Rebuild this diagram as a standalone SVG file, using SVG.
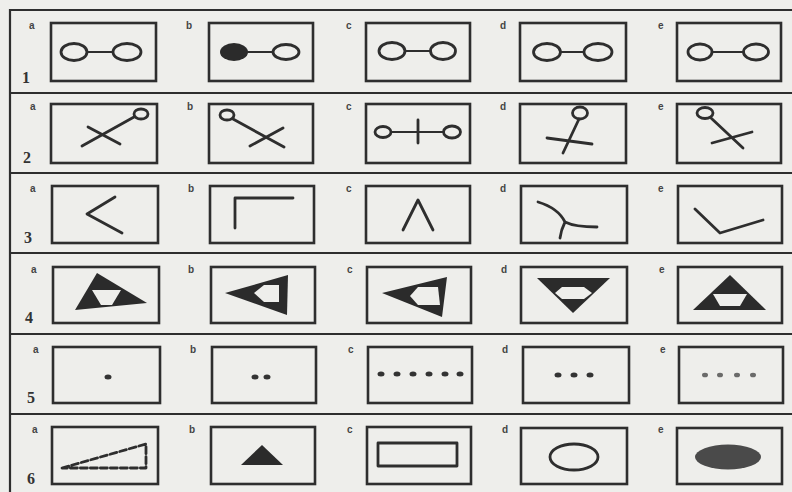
<svg xmlns="http://www.w3.org/2000/svg" width="792" height="492" viewBox="0 0 792 492">
<style>
.bg{fill:#eeeeeb}
.frame{stroke:#2e2e2e;stroke-width:2.2;fill:none}
.box{fill:none;stroke:#2e2e2e;stroke-width:2.6}
.ln{fill:none;stroke:#2e2e2e;stroke-width:2.8;stroke-linecap:round;stroke-linejoin:round}
.thin{fill:none;stroke:#2e2e2e;stroke-width:2.2;stroke-linecap:round}
.solid{fill:#2b2b2b;stroke:none}
.hole{fill:#eeeeeb;stroke:none}
.dot{fill:#333}
.lt{font-family:"Liberation Sans",Arial,sans-serif;font-size:10px;font-weight:bold;fill:#444}
.num{font-family:"Liberation Serif","Times New Roman",serif;font-size:16px;font-weight:bold;fill:#333}
</style>
<rect class="bg" x="0" y="0" width="792" height="492"/>
<g id="frame">
<path class="frame" d="M10,494 V10 H792 M10,93 H792 M10,173 H792 M10,253 H792 M10,334 H792 M10,414 H792"/>
</g>
<g id="row-labels">
<text class="num" x="22" y="83">1</text>
<text class="num" x="23" y="163">2</text>
<text class="num" x="24" y="243">3</text>
<text class="num" x="25" y="323">4</text>
<text class="num" x="27" y="403">5</text>
<text class="num" x="27" y="484">6</text>
</g>

<!-- Row 1 -->
<g id="r1a"><text class="lt" x="29" y="29">a</text><rect class="box" x="51" y="23" width="105" height="58"/>
<ellipse class="ln" cx="74" cy="52" rx="13" ry="8.5"/><ellipse class="ln" cx="127" cy="52" rx="14" ry="8.5"/><line class="thin" x1="87" y1="52" x2="113" y2="52"/></g>
<g id="r1b"><text class="lt" x="186" y="29">b</text><rect class="box" x="209" y="23" width="104" height="58"/>
<ellipse class="solid" cx="234" cy="52" rx="14" ry="9"/><ellipse class="ln" cx="286" cy="52" rx="13" ry="7.5"/><line class="thin" x1="248" y1="52" x2="273" y2="52"/></g>
<g id="r1c"><text class="lt" x="346" y="29">c</text><rect class="box" x="366" y="23" width="104" height="58"/>
<ellipse class="ln" cx="392" cy="51" rx="13" ry="8.5"/><ellipse class="ln" cx="443" cy="51" rx="12.5" ry="8.5"/><line class="thin" x1="405" y1="51" x2="430" y2="51"/></g>
<g id="r1d"><text class="lt" x="500" y="29">d</text><rect class="box" x="520" y="23" width="106" height="58"/>
<ellipse class="ln" cx="547" cy="52" rx="13.5" ry="8.5"/><ellipse class="ln" cx="598" cy="52" rx="14" ry="8.5"/><line class="thin" x1="560" y1="52" x2="584" y2="52"/></g>
<g id="r1e"><text class="lt" x="658" y="29">e</text><rect class="box" x="677" y="23" width="104" height="58"/>
<ellipse class="ln" cx="700" cy="52" rx="12" ry="8"/><ellipse class="ln" cx="756" cy="52" rx="12.5" ry="8"/><line class="thin" x1="712" y1="52" x2="743" y2="52"/></g>

<!-- Row 2 -->
<g id="r2a"><text class="lt" x="30" y="110">a</text><rect class="box" x="51" y="104" width="106" height="59"/>
<line class="ln" x1="82" y1="146" x2="134" y2="117"/><line class="ln" x1="88" y1="127" x2="120" y2="144"/><ellipse class="ln" cx="141" cy="114" rx="7" ry="5"/></g>
<g id="r2b"><text class="lt" x="187" y="110">b</text><rect class="box" x="209" y="104" width="104" height="59"/>
<ellipse class="ln" cx="227" cy="115" rx="7" ry="5"/><line class="ln" x1="233" y1="119" x2="284" y2="147"/><line class="ln" x1="250" y1="146" x2="283" y2="128"/></g>
<g id="r2c"><text class="lt" x="346" y="110">c</text><rect class="box" x="366" y="104" width="104" height="59"/>
<ellipse class="ln" cx="383" cy="132" rx="8" ry="5.5"/><ellipse class="ln" cx="452" cy="132" rx="8.5" ry="6"/><line class="thin" x1="391" y1="132" x2="443" y2="132"/><line class="ln" x1="418" y1="120" x2="418" y2="143"/></g>
<g id="r2d"><text class="lt" x="500" y="110">d</text><rect class="box" x="520" y="104" width="106" height="59"/>
<ellipse class="ln" cx="580" cy="113" rx="7.5" ry="6"/><path class="ln" d="M579,119 L563,153"/><line class="ln" x1="547" y1="138" x2="592" y2="144"/></g>
<g id="r2e"><text class="lt" x="658" y="110">e</text><rect class="box" x="677" y="104" width="104" height="59"/>
<ellipse class="ln" cx="705" cy="113" rx="8" ry="5.5"/><line class="ln" x1="711" y1="118" x2="743" y2="148"/><line class="ln" x1="712" y1="143" x2="752" y2="132"/></g>

<!-- Row 3 -->
<g id="r3a"><text class="lt" x="30" y="192">a</text><rect class="box" x="52" y="186" width="106" height="57"/>
<polyline class="ln" points="115,197 87,214 122,233"/></g>
<g id="r3b"><text class="lt" x="188" y="192">b</text><rect class="box" x="210" y="186" width="104" height="57"/>
<polyline class="ln" points="235,228 235,198 293,198"/></g>
<g id="r3c"><text class="lt" x="346" y="192">c</text><rect class="box" x="366" y="186" width="104" height="57"/>
<polyline class="ln" points="403,230 418,200 433,230"/></g>
<g id="r3d"><text class="lt" x="500" y="192">d</text><rect class="box" x="521" y="186" width="106" height="57"/>
<path class="ln" d="M538,202 Q558,208 565,222 Q575,227 597,227 M565,222 Q561,230 560,238"/></g>
<g id="r3e"><text class="lt" x="658" y="192">e</text><rect class="box" x="678" y="186" width="104" height="57"/>
<polyline class="ln" points="695,209 720,233 763,220"/></g>

<!-- Row 4 -->
<g id="r4a"><text class="lt" x="31" y="273">a</text><rect class="box" x="53" y="267" width="106" height="56"/>
<polygon class="solid" points="97,273 75,310 147,303"/><polygon class="hole" points="92,290 121,290 112,305 101,305"/></g>
<g id="r4b"><text class="lt" x="188" y="273">b</text><rect class="box" x="211" y="267" width="104" height="56"/>
<polygon class="solid" points="225,293 288,275 287,315"/><polygon class="hole" points="254,293 264,285 279,285 279,302 264,302"/></g>
<g id="r4c"><text class="lt" x="347" y="273">c</text><rect class="box" x="367" y="267" width="104" height="56"/>
<polygon class="solid" points="382,293 447,277 442,317"/><polygon class="hole" points="410,296 418,287 438,287 440,305 418,305"/></g>
<g id="r4d"><text class="lt" x="501" y="273">d</text><rect class="box" x="521" y="267" width="106" height="56"/>
<polygon class="solid" points="537,278 610,278 573,313"/><polygon class="hole" points="562,287 584,287 592,293 584,299 562,299 555,293"/></g>
<g id="r4e"><text class="lt" x="659" y="273">e</text><rect class="box" x="678" y="267" width="104" height="56"/>
<polygon class="solid" points="730,275 693,310 766,310"/><polygon class="hole" points="713,294 747,294 740,306 720,306"/></g>

<!-- Row 5 -->
<g id="r5a"><text class="lt" x="33" y="353">a</text><rect class="box" x="53" y="347" width="107" height="56"/>
<ellipse class="dot" cx="108" cy="377" rx="3.5" ry="2.5"/></g>
<g id="r5b"><text class="lt" x="190" y="353">b</text><rect class="box" x="212" y="347" width="104" height="56"/>
<ellipse class="dot" cx="255" cy="377" rx="3.5" ry="2.5"/><ellipse class="dot" cx="267" cy="377" rx="3.5" ry="2.5"/></g>
<g id="r5c"><text class="lt" x="348" y="353">c</text><rect class="box" x="368" y="347" width="104" height="56"/>
<ellipse class="dot" cx="381" cy="374" rx="3.5" ry="2.5"/><ellipse class="dot" cx="397" cy="374" rx="3.5" ry="2.5"/><ellipse class="dot" cx="413" cy="374" rx="3.5" ry="2.5"/><ellipse class="dot" cx="429" cy="374" rx="3.5" ry="2.5"/><ellipse class="dot" cx="445" cy="374" rx="3.5" ry="2.5"/><ellipse class="dot" cx="460" cy="374" rx="3.5" ry="2.5"/></g>
<g id="r5d"><text class="lt" x="502" y="353">d</text><rect class="box" x="523" y="347" width="106" height="56"/>
<ellipse class="dot" cx="558" cy="375" rx="3.5" ry="2.5"/><ellipse class="dot" cx="574" cy="375" rx="3.5" ry="2.5"/><ellipse class="dot" cx="590" cy="375" rx="3.5" ry="2.5"/></g>
<g id="r5e"><text class="lt" x="660" y="353">e</text><rect class="box" x="679" y="347" width="104" height="56"/>
<ellipse class="dot" cx="705" cy="375" rx="3" ry="2.3" fill-opacity="0.7"/><ellipse class="dot" cx="720" cy="375" rx="3" ry="2.3" fill-opacity="0.7"/><ellipse class="dot" cx="737" cy="375" rx="3" ry="2.3" fill-opacity="0.7"/><ellipse class="dot" cx="753" cy="375" rx="3" ry="2.3" fill-opacity="0.7"/></g>

<!-- Row 6 -->
<g id="r6a"><text class="lt" x="32" y="433">a</text><rect class="box" x="52" y="427" width="106" height="57"/>
<polygon class="ln" points="62,468 146,444 146,468" stroke-dasharray="7 3" stroke-width="2.4"/></g>
<g id="r6b"><text class="lt" x="189" y="433">b</text><rect class="box" x="211" y="427" width="104" height="57"/>
<polygon class="solid" points="262,445 241,465 283,465"/></g>
<g id="r6c"><text class="lt" x="347" y="433">c</text><rect class="box" x="367" y="427" width="104" height="57"/>
<rect class="ln" x="378" y="443" width="79" height="23" stroke-width="3"/></g>
<g id="r6d"><text class="lt" x="502" y="433">d</text><rect class="box" x="521" y="428" width="106" height="56"/>
<ellipse class="ln" cx="574" cy="457" rx="24" ry="13"/></g>
<g id="r6e"><text class="lt" x="658" y="433">e</text><rect class="box" x="677" y="428" width="105" height="56"/>
<ellipse cx="728" cy="457" rx="33" ry="12.5" fill="#4a4a4a"/></g>
</svg>
